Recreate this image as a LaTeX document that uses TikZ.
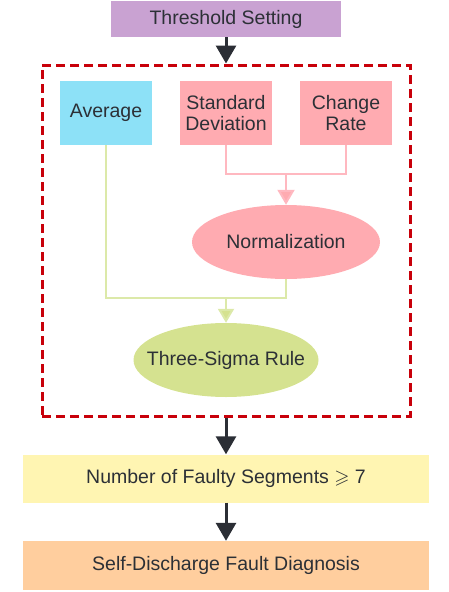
\documentclass[tikz,border=0pt]{standalone}
\usepackage{amssymb}
\usepackage{fontspec}
\setmainfont{Liberation Sans}
\usetikzlibrary{arrows.meta,shapes.geometric}
\definecolor{txt}{HTML}{2C3036}
\definecolor{cThr}{HTML}{C9A2D2}
\definecolor{cAvg}{HTML}{8DE1F7}
\definecolor{cPink}{HTML}{FFABB1}
\definecolor{cGreen}{HTML}{D5E290}
\definecolor{cNum}{HTML}{FFF5B2}
\definecolor{cSelf}{HTML}{FFCE9E}
\definecolor{cRed}{HTML}{C8000A}
\definecolor{cDark}{HTML}{2B2E35}
\definecolor{cPinkLine}{HTML}{FFB8C0}
\definecolor{cGreenLine}{HTML}{DCE9A9}
\tikzset{
  lbl/.style={text=txt, align=center, font=\fontsize{19.5}{21}\selectfont},
  box/.style={rectangle, inner sep=0pt, lbl},
  oval/.style={ellipse, inner sep=0pt},
  darrow/.style={draw=cDark, line width=3pt, -{Triangle[width=20pt,length=18pt]}},
  parrow/.style={draw=cPinkLine, line width=2pt, -{Triangle[width=17pt,length=15pt,fill=cPink]}},
  pline/.style={draw=cPinkLine, line width=2pt},
  garrow/.style={draw=cGreenLine, line width=2pt, -{Triangle[width=16pt,length=14pt,fill=cGreen]}},
  gline/.style={draw=cGreenLine, line width=2pt},
}
\begin{document}
\begin{tikzpicture}[x=1pt,y=-1pt]
\useasboundingbox (0,0) rectangle (448,592);
\node[box, fill=cThr, minimum width=230pt, minimum height=36pt] (thr) at (226,19) {Threshold Setting};
\node[draw=cRed, dash pattern=on 9pt off 5pt, line width=3pt, minimum width=368pt, minimum height=351pt, inner sep=0pt] (frame) at (226,240.5) {};
\node[box, fill=cAvg, minimum width=92pt, minimum height=64pt] (avg) at (106,113) {Average};
\node[box, fill=cPink, minimum width=92pt, minimum height=64pt] (sd) at (226,113) {Standard\\Deviation};
\node[box, fill=cPink, minimum width=92pt, minimum height=64pt] (cr) at (346,113) {Change\\Rate};
\node[oval, fill=cPink, minimum width=188pt, minimum height=74pt, label={[lbl]center:Normalization}] (norm) at (286,242) {};
\node[oval, fill=cGreen, minimum width=185pt, minimum height=74pt, label={[lbl]center:Three-Sigma Rule}] (sig) at (226,360) {};
\node[box, fill=cNum, minimum width=406pt, minimum height=48pt] (num) at (226,478.5) {Number of Faulty Segments $\geqslant$ 7};
\node[box, fill=cSelf, minimum width=406pt, minimum height=49pt] (self) at (226,565.5) {Self-Discharge Fault Diagnosis};
\coordinate (pj) at (286,174);
\coordinate (gj) at (226,298);
\draw[pline] (sd.south) |- (pj) -| (cr.south);
\draw[parrow] (pj) -- (norm.north);
\draw[gline] (avg.south) |- (gj) -| (norm.south);
\draw[garrow] (gj) -- (sig.north);
\draw[darrow] (thr.south) -- (frame.north);
\draw[darrow] (frame.south) -- (num.north);
\draw[darrow] (num.south) -- (self.north);
\end{tikzpicture}
\end{document}
